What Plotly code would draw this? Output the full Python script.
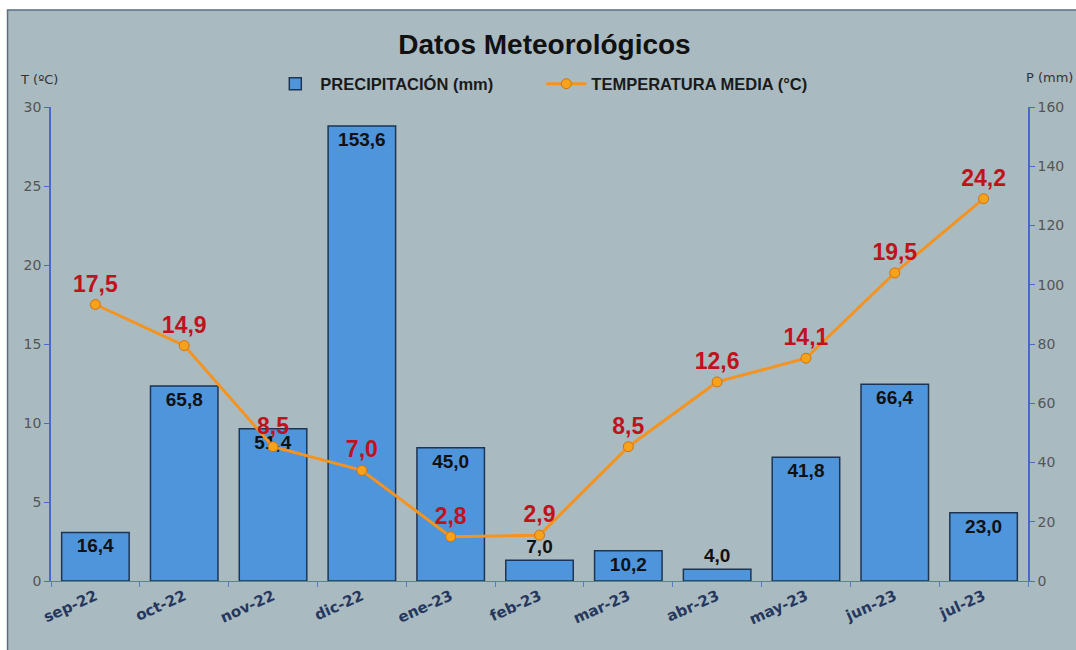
import plotly.graph_objects as go

months = ["sep-22", "oct-22", "nov-22", "dic-22", "ene-23", "feb-23",
          "mar-23", "abr-23", "may-23", "jun-23", "jul-23"]
precip = [16.4, 65.8, 51.4, 153.6, 45.0, 7.0, 10.2, 4.0, 41.8, 66.4, 23.0]
temp = [17.5, 14.9, 8.5, 7.0, 2.8, 2.9, 8.5, 12.6, 14.1, 19.5, 24.2]

def fmt(v):
    return f"{v:.1f}".replace(".", ",")

W, H = 1076, 650
L, R, T, B = 51, 36, 107, 69
pw, ph = W - L - R, H - T - B

def px_x(x):
    return (x - L) / pw

def px_y(y):
    return (H - B - y) / ph

lab_font = "Liberation Sans, Arial"

fig = go.Figure()

fig.add_trace(go.Bar(
    x=months, y=precip, yaxis="y", name="<b>PRECIPITACIÓN (mm)</b>",
    text=[f"<b>{fmt(v)}</b>" for v in precip], textposition="auto",
    insidetextanchor="end",
    textfont=dict(family=lab_font, size=19, color="#111111"),
    outsidetextfont=dict(family=lab_font, size=19, color="#111111"),
    insidetextfont=dict(family=lab_font, size=19, color="#111111"),
    marker=dict(color="#4f95dc", line=dict(color="#1d3553", width=1.5)),
    width=0.76, cliponaxis=False,
))

fig.add_trace(go.Scatter(
    x=months, y=temp, yaxis="y2", name="<b>TEMPERATURA MEDIA (°C)</b>",
    mode="lines+markers+text",
    text=[f"<b>{fmt(v)}</b>" for v in temp], textposition="top center",
    textfont=dict(family=lab_font, size=23, color="#c0121c"),
    line=dict(color="#f39422", width=3),
    marker=dict(size=10, color="#f7a21b", line=dict(color="#d07010", width=1)),
    cliponaxis=False,
))

fig.add_shape(type="rect", xref="paper", yref="paper",
              x0=px_x(7), x1=px_x(1090), y0=px_y(660), y1=px_y(10),
              fillcolor="#a9bbc1", line=dict(color="#5c6e84", width=1.5),
              layer="below")

tick_font = dict(family="DejaVu Sans", size=14, color="#555555")

fig.update_layout(
    width=W, height=H,
    margin=dict(l=L, r=R, t=T, b=B),
    paper_bgcolor="white", plot_bgcolor="rgba(0,0,0,0)",
    title=dict(text="<b>Datos Meteorológicos</b>", x=0.506, xanchor="center",
               y=1 - 44 / H, yanchor="middle",
               font=dict(family=lab_font, size=28, color="#111111")),
    showlegend=True,
    legend=dict(orientation="h", x=px_x(273), xanchor="left", y=px_y(84), yanchor="middle",
                bgcolor="rgba(0,0,0,0)",
                font=dict(family=lab_font, size=16.5, color="#1a1a1a"),
                itemwidth=40, entrywidth=216, traceorder="normal"),
    xaxis=dict(
        range=[-0.5, 10.5],
        showline=True, linecolor="#5a78c8", linewidth=1,
        ticks="outside", ticklen=5, tickcolor="#5a78c8",
        tickson="boundaries", tickangle=-24,
        tickfont=dict(family="DejaVu Sans", size=15, color="#26375e", weight="bold"),
        showgrid=False, zeroline=False,
    ),
    yaxis=dict(
        range=[0, 160], dtick=20, side="right",
        showline=True, linecolor="#4a66d0", linewidth=1.5,
        ticks="outside", ticklen=5, tickcolor="#4a66d0",
        tickfont=tick_font, showgrid=False, zeroline=False,
    ),
    yaxis2=dict(
        range=[0, 30], dtick=5, overlaying="y", side="left",
        showline=True, linecolor="#4a66d0", linewidth=1.5,
        ticks="outside", ticklen=5, tickcolor="#4a66d0",
        tickfont=tick_font, showgrid=False, zeroline=False,
    ),
    annotations=[
        dict(text="T (ºC)", xref="paper", yref="paper", x=px_x(18), y=px_y(80),
             xanchor="left", yanchor="middle", showarrow=False,
             font=dict(family="DejaVu Sans", size=13, color="#333333")),
        dict(text="P (mm)", xref="paper", yref="paper", x=px_x(1036), y=px_y(78),
             xanchor="left", yanchor="middle", showarrow=False,
             font=dict(family="DejaVu Sans", size=13, color="#333333")),
    ],
)

fig.write_html("out.html", config={"displayModeBar": False},
               post_script="document.body.style.margin='0';document.body.style.overflow='hidden';")
